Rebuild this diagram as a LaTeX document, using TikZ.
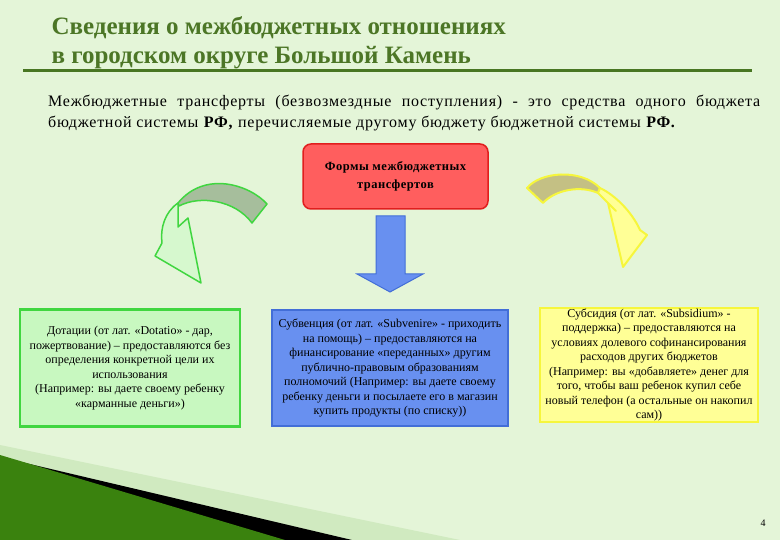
\documentclass[tikz,border=0pt]{standalone}
\usepackage{fontspec}
\setmainfont{Liberation Serif}
\newfontfamily\widefont[LetterSpace=4.6]{Liberation Serif}
\newfontfamily\redfont[LetterSpace=4]{Liberation Serif}
\usepackage{tikz}
\usetikzlibrary{positioning,calc}

\definecolor{bg}{RGB}{228,245,216}
\definecolor{titlegreen}{RGB}{76,118,38}
\definecolor{rulegreen}{RGB}{72,118,34}
\definecolor{redfill}{RGB}{255,94,94}
\definecolor{redline}{RGB}{225,30,30}
\definecolor{bluefill}{RGB}{104,144,240}
\definecolor{blueline}{RGB}{66,110,215}
\definecolor{greenfill}{RGB}{200,248,192}
\definecolor{greenline}{RGB}{64,214,64}
\definecolor{yelfill}{RGB}{255,255,150}
\definecolor{yelline}{RGB}{246,246,60}
\definecolor{bandgreen}{RGB}{166,190,156}
\definecolor{headgreen}{RGB}{214,248,206}
\definecolor{bandyel}{RGB}{196,192,132}
\definecolor{swdark}{RGB}{58,130,14}
\definecolor{swlight}{RGB}{140,224,90}
\definecolor{pale}{RGB}{208,234,192}

\begin{document}
\begin{tikzpicture}[x=1pt,y=-1pt,
  box/.style={draw,line width=2.5pt,align=center,inner sep=0pt,
    font=\fontsize{12}{14.5}\selectfont},
  ttl/.style={anchor=base west,text=titlegreen,font=\fontsize{25}{30}\selectfont\bfseries},
  intro/.style={anchor=base west,inner sep=0pt,font=\fontsize{16}{20}\selectfont\widefont}]
  \useasboundingbox (0,0) rectangle (780,540);
  \fill[bg] (0,0) rectangle (780,540);

  % title
  \node[ttl] (title1) at (48,35) {Сведения о межбюджетных отношениях};
  \node[ttl] (title2) at (48,64) {в городском округе Большой Камень};
  \draw[rulegreen,line width=3.5pt] (23,70.5) -- (752,70.5);

  % definition
  \node[intro] (def1) at (48,107) {\makebox[712pt][s]{Межбюджетные трансферты (безвозмездные поступления) - это средства одного бюджета}};
  \node[intro] (def2) at (48,128) {бюджетной системы \textbf{РФ,} перечисляемые другому бюджету бюджетной системы \textbf{РФ.}};

  % forms
  \node[draw=redline,fill=redfill,line width=1.5pt,rounded corners=8pt,
    minimum width=185pt,minimum height=65pt,align=center,
    font=\fontsize{12.5}{18}\selectfont\redfont\bfseries] (forms) at (395.5,176.5)
    {Формы межбюджетных\\трансфертов};
  \draw[blueline,fill=bluefill,line width=1pt] (376,216) -- (405,216) -- (405,274)
    -- (423,274) -- (390,292) -- (357,274) -- (376,274) -- cycle;

  % left arrow
  \draw[greenline,fill=bandgreen,line width=1.5pt,line join=round]
    (267,204) .. controls (250,185) and (205,170) .. (178,203)
    -- (179,206) .. controls (200,195) and (235,200) .. (252,223) -- cycle;
  \draw[greenline,fill=headgreen,line width=1.5pt,line join=round]
    (178,203) .. controls (165,212) and (160,228) .. (162,243) -- (155,256)
    -- (201,283) -- (188,218) -- (178,227) -- (178,206) -- cycle;

  % right arrow
  \draw[yelline,fill=bandyel,line width=2pt,line join=round]
    (527,188) .. controls (540,172) and (580,168) .. (600,188)
    -- (598,193) .. controls (580,185) and (555,190) .. (543,203) -- cycle;
  \draw[yelline,fill=yelfill,line width=2pt,line join=round]
    (600,188) .. controls (615,195) and (632,212) .. (640,230) -- (647,235)
    -- (623,267) -- (608,203) -- (616,211) -- (598,193) -- cycle;

  % boxes
  \node[box,draw=greenline,fill=greenfill,minimum width=220pt,minimum height=117pt] (dot) at (130,368)
    {Дотации (от лат. «Dotatio» - дар,\\пожертвование) – предоставляются без\\определения конкретной цели их\\использования\\(Например: вы даете своему ребенку\\«карманные деньги»)};
  \node[box,draw=blueline,fill=bluefill,minimum width=236pt,minimum height=116pt] (subv) at (390,368)
    {Субвенция (от лат. «Subvenire» - приходить\\на помощь) – предоставляются на\\финансирование «переданных» другим\\публично-правовым образованиям\\полномочий (Например: вы даете своему\\ребенку деньги и посылаете его в магазин\\купить продукты (по списку))};
  \node[box,draw=yelline,fill=yelfill,minimum width=218pt,minimum height=114pt] (subs) at (649,365)
    {Субсидия (от лат. «Subsidium» -\\поддержка) – предоставляются на\\условиях долевого софинансирования\\расходов других бюджетов\\(Например: вы «добавляете» денег для\\того, чтобы ваш ребенок купил себе\\новый телефон (а остальные он накопил\\сам))};

  % corner
  \fill[pale] (0,445) -- (460,540) -- (0,540) -- cycle;
  \fill[black] (0,457) -- (352,540) -- (0,540) -- cycle;
  \shade[left color=swdark,middle color=swlight,right color=swdark]
    (0,455) -- (285,540) -- (0,540) -- cycle;

  \node[font=\fontsize{10}{11}\selectfont] (page) at (763,523) {4};
\end{tikzpicture}
\end{document}
